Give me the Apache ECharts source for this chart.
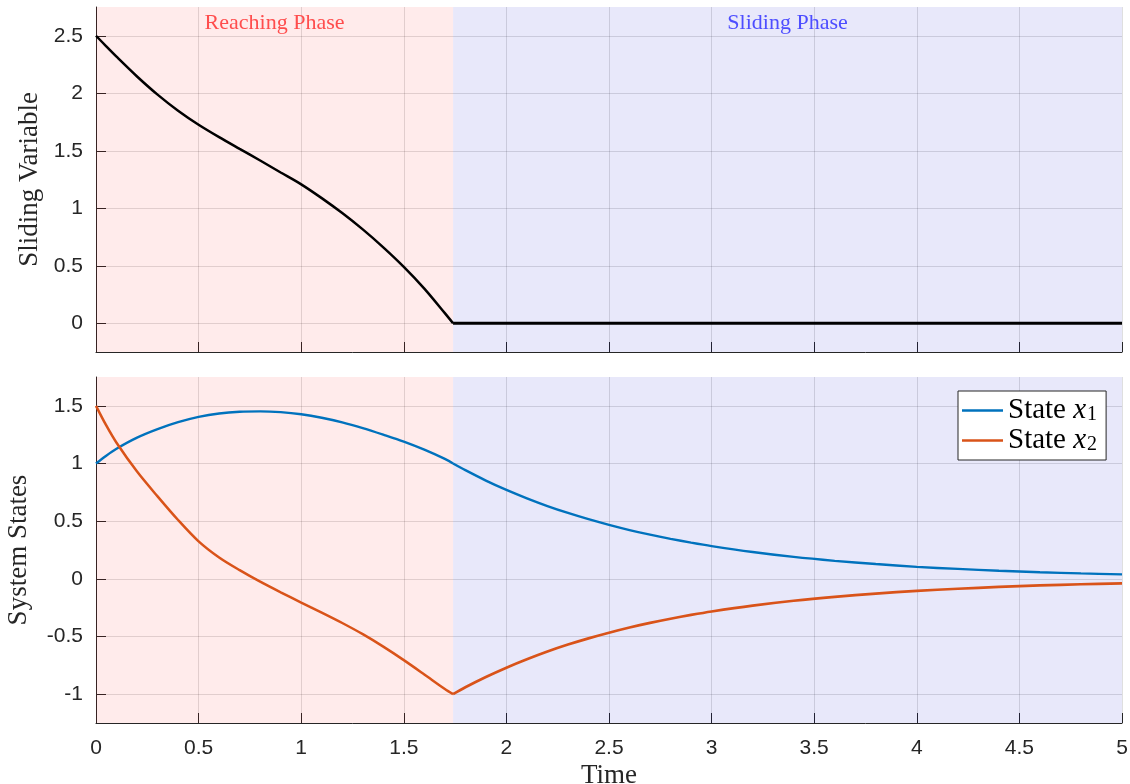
<!DOCTYPE html>
<html>
<head>
<meta charset="utf-8">
<script src="https://cdn.jsdelivr.net/npm/echarts@6/dist/echarts.min.js"></script>
<style>
html,body{margin:0;padding:0;background:#ffffff;}
#chart{width:1130px;height:784px;}
</style>
</head>
<body>
<div id="chart"></div>
<script>
// ---- data ----
const time = [0, 0.05, 0.1, 0.2, 0.3, 0.4, 0.5, 0.6, 0.7, 0.8, 0.9, 1.0, 1.1, 1.2, 1.3, 1.4, 1.5, 1.6, 1.7, 1.74,
              1.8, 1.9, 2.0, 2.1, 2.2, 2.3, 2.4, 2.5, 2.6, 2.7, 2.8, 2.9, 3.0,
              3.2, 3.4, 3.6, 3.8, 4.0, 4.2, 4.4, 4.6, 4.8, 5.0];
const slidingVariable = [2.50, 2.408, 2.318, 2.146, 1.988, 1.848, 1.726, 1.618, 1.516, 1.415, 1.311, 1.208, 1.088, 0.958, 0.816, 0.66, 0.49, 0.301, 0.088, 0,
              0, 0, 0, 0, 0, 0, 0, 0, 0, 0, 0, 0, 0,
              0, 0, 0, 0, 0, 0, 0, 0, 0, 0];
const stateX1 = [1.00, 1.068, 1.128, 1.224, 1.298, 1.358, 1.404, 1.434, 1.449, 1.452, 1.445, 1.427, 1.397, 1.357, 1.307, 1.25, 1.19, 1.12, 1.04, 1.00,
              0.942, 0.852, 0.771, 0.698, 0.631, 0.571, 0.517, 0.468, 0.423, 0.383, 0.347, 0.314, 0.284,
              0.233, 0.190, 0.156, 0.128, 0.104, 0.086, 0.070, 0.057, 0.047, 0.039];
const stateX2 = [1.50, 1.33, 1.18, 0.93, 0.715, 0.51, 0.325, 0.185, 0.075, -0.025, -0.117, -0.206, -0.293, -0.383, -0.48, -0.588, -0.705, -0.829, -0.955, -1.00,
              -0.94, -0.851, -0.77, -0.697, -0.63, -0.57, -0.516, -0.467, -0.422, -0.382, -0.346, -0.313, -0.283,
              -0.232, -0.19, -0.156, -0.128, -0.104, -0.086, -0.070, -0.057, -0.047, -0.039];
const phaseNames = ['Reaching Phase', 'Sliding Phase'];
const phaseBounds = [0, 1.74, 5];
const topYTicks = [0, 0.5, 1, 1.5, 2, 2.5];
const bottomYTicks = [-1, -0.5, 0, 0.5, 1, 1.5];
const seriesNames = ['x1', 'x2'];
const legendLabels = { x1: ['State ', 'x', '1'], x2: ['State ', 'x', '2'] };

// ---- build ----
const SERIF = '"Liberation Serif", "DejaVu Serif", serif';
const SANS = '"Liberation Sans", Arial, sans-serif';
const AX = '#262626';
const GRIDC = 'rgba(38,38,38,0.15)';
const PINK = 'rgba(255,0,0,0.08)';
const BLUE = 'rgba(0,0,200,0.09)';
const C1 = '#0072BD', C2 = '#D95319';

const k = time.indexOf(phaseBounds[1]);
const pairs = (ys) => time.map((t, i) => [t, ys[i]]);
const sPairs = pairs(slidingVariable);
const x1Pairs = pairs(stateX1);
const x2Pairs = pairs(stateX2);

function phaseAreas(withLabel) {
  const cols = [PINK, BLUE];
  const txt = ['#ff4d4d', '#4d4dff'];
  return phaseNames.map((nm, i) => [
    {
      xAxis: phaseBounds[i],
      itemStyle: { color: cols[i] },
      label: withLabel ? {
        show: true, formatter: nm, position: 'insideTop', distance: 5,
        color: txt[i], fontFamily: SERIF, fontSize: 22
      } : { show: false }
    },
    { xAxis: phaseBounds[i + 1] }
  ]);
}

function xAxisCfg(idx, showLabels) {
  const c = {
    gridIndex: idx, type: 'value', min: 0, max: 5, interval: 0.5,
    axisLine: { show: true, onZero: false, lineStyle: { color: AX, width: 1 } },
    axisTick: { show: true, inside: true, length: 10, lineStyle: { color: AX, width: 1 } },
    axisLabel: { show: showLabels, fontFamily: SANS, fontSize: 21, color: AX, margin: 15 },
    splitLine: { show: true, lineStyle: { color: GRIDC, width: 1 } }
  };
  if (showLabels) {
    c.name = 'Time'; c.nameLocation = 'middle'; c.nameGap = 39;
    c.nameTextStyle = { fontFamily: SERIF, fontSize: 27, color: AX };
  }
  return c;
}
function yAxisCfg(idx, lo, hi, ticks, name, gap) {
  return {
    gridIndex: idx, type: 'value', min: lo, max: hi,
    axisLine: { show: true, onZero: false, lineStyle: { color: AX, width: 1 } },
    axisTick: { show: true, inside: true, length: 10, customValues: ticks, lineStyle: { color: AX, width: 1 } },
    axisLabel: { show: true, customValues: ticks, fontFamily: SANS, fontSize: 21, color: AX, margin: 13 },
    splitLine: { show: true, lineStyle: { color: GRIDC, width: 1 } },
    name: name, nameLocation: 'middle', nameGap: gap, nameRotate: 90,
    nameTextStyle: { fontFamily: SERIF, fontSize: 27, color: AX }
  };
}

function seg(name, gi, data, color, width, smooth, extra) {
  return Object.assign({
    type: 'line', name: name, xAxisIndex: gi, yAxisIndex: gi,
    data: data, showSymbol: false, smooth: smooth,
    lineStyle: { color: color, width: width }, itemStyle: { color: color }
  }, extra || {});
}

const option = {
  animation: false,
  backgroundColor: '#ffffff',
  grid: [
    { left: 96, right: 8, top: 7, height: 345, outerBoundsMode: 'none', containLabel: false },
    { left: 96, right: 8, top: 377, height: 346, outerBoundsMode: 'none', containLabel: false }
  ],
  xAxis: [xAxisCfg(0, false), xAxisCfg(1, true)],
  yAxis: [
    yAxisCfg(0, -0.25, 2.75, topYTicks, 'Sliding Variable', 52),
    yAxisCfg(1, -1.25, 1.75, bottomYTicks, 'System States', 64)
  ],
  legend: {
    data: seriesNames,
    left: 958, top: 391, orient: 'vertical',
    backgroundColor: '#ffffff', borderColor: AX, borderWidth: 1, borderRadius: 0,
    padding: [5, 9, 5, 4], itemGap: 1, itemWidth: 41, itemHeight: 2.5, icon: 'rect',
    formatter: (n) => '{a|' + legendLabels[n][0] + '}{v|' + legendLabels[n][1] + '}{s|' + legendLabels[n][2] + '}',
    textStyle: {
      color: '#000',
      rich: {
        a: { fontFamily: SERIF, fontSize: 29, lineHeight: 28, color: '#000' },
        v: { fontFamily: SERIF, fontStyle: 'italic', fontSize: 29, lineHeight: 28, color: '#000' },
        s: { fontFamily: SERIF, fontSize: 20, lineHeight: 12, verticalAlign: 'bottom', color: '#000', padding: [0, 0, 0, 1] }
      }
    }
  },
  series: [
    seg('sReach', 0, sPairs.slice(0, k + 1), '#000', 2.5, 0.3, { markArea: { silent: true, data: phaseAreas(true) } }),
    seg('sSlide', 0, sPairs.slice(k), '#000', 3.2, false),
    seg(seriesNames[0], 1, x1Pairs.slice(0, k + 1), C1, 2.4, 0.3, { markArea: { silent: true, data: phaseAreas(false) } }),
    seg(seriesNames[0], 1, x1Pairs.slice(k), C1, 2.4, 0.3),
    seg(seriesNames[1], 1, x2Pairs.slice(0, k + 1), C2, 2.5, 0.3),
    seg(seriesNames[1], 1, x2Pairs.slice(k), C2, 2.7, 0.3)
  ]
};

const chart = echarts.init(document.getElementById('chart'), null, { renderer: 'canvas' });
chart.setOption(option);
</script>
</body>
</html>
